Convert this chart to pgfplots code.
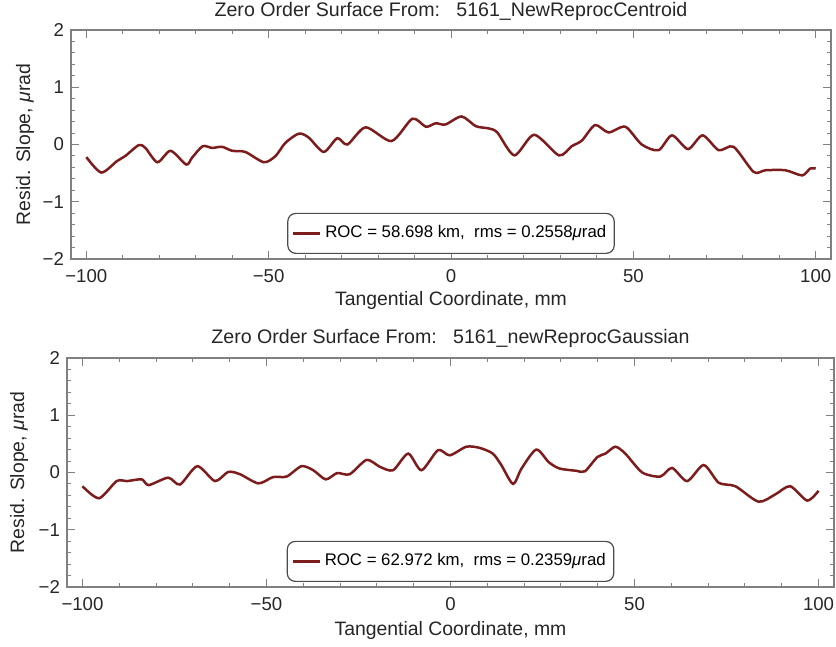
\documentclass[border=0pt]{standalone}
\usepackage{fontspec}
\setmainfont{Liberation Sans}
\usepackage{pgfplots}
\pgfplotsset{compat=1.18}
\definecolor{curve}{RGB}{125,28,28}
\definecolor{framec}{RGB}{128,128,128}

\pgfplotsset{
  myax/.style={
    scale only axis, height=114.5pt,
    xmin=-104.2, xmax=104.2, ymin=-2, ymax=2,
    xtick={-100,-50,0,50,100}, xticklabels={−100,−50,0,50,100},
    ytick={-2,-1,0,1,2}, yticklabels={−2,−1,0,1,2},
    minor x tick num=4, minor y tick num=4,
    tick align=inside, tick pos=both,
    major tick length=4pt, minor tick length=2pt,
    axis line style={framec, line width=0.6pt},
    every tick/.style={framec, line width=0.5pt},
    tick label style={font=\fontsize{9.3}{11}\selectfont, text=black!85},
    xticklabel style={yshift=-1.5pt},
    label style={font=\fontsize{9.7}{11}\selectfont, text=black!85},
    every axis title shift=0pt,
    title style={font=\fontsize{9.8}{11}\selectfont, text=black!85},
    xlabel={Tangential Coordinate, mm},
    ylabel={Resid. Slope, {\itshape μ}rad},
    ylabel style={at={(axis description cs:-0.0605,0.5)}, anchor=center},
    legend style={at={(axis description cs:0.5,0.022)}, anchor=south,
      draw=black!70, rounded corners=4pt, line width=0.6pt,
      font=\fontsize{8.4}{10}\selectfont, inner xsep=2pt, inner ysep=4.2pt},
    legend image code/.code={\draw[#1] (0pt,0pt) -- (13.5pt,0pt);},
  },
  curvestyle/.style={curve, line width=1.25pt, smooth, tension=0.45, mark=none},
}

\pgfplotstableread{
x y
-100 -0.22
-95.9 -0.49
-91.6 -0.29
-89.3 -0.20
-85.6 -0.01
-83.8 -0.06
-80.5 -0.31
-76.9 -0.11
-72.6 -0.35
-71.0 -0.23
-68.1 -0.03
-65.5 -0.06
-62.8 -0.04
-60.0 -0.11
-56.4 -0.13
-51.3 -0.31
-48.1 -0.20
-45.4 0.03
-41.7 0.19
-39.0 0.12
-34.9 -0.13
-31.2 0.11
-28.4 0.00
-23.4 0.30
-16.3 0.06
-10.6 0.45
-6.9 0.31
-4.2 0.37
-1.5 0.35
2.9 0.49
6.8 0.32
10.4 0.28
12.7 0.21
17.4 -0.19
22.8 0.17
29.6 -0.19
33.1 -0.03
35.9 0.07
39.5 0.34
43.2 0.21
47.8 0.31
52.3 0.00
56.9 -0.10
60.6 0.16
65.0 -0.08
69.0 0.16
73.4 -0.10
77.5 -0.04
83.0 -0.48
86.2 -0.45
91.7 -0.45
96.3 -0.54
98.5 -0.42
100 -0.42
}\centroid

\pgfplotstableread{
x y
-100 -0.24
-95.5 -0.45
-90.7 -0.15
-87.9 -0.15
-83.9 -0.12
-82.0 -0.22
-76.7 -0.09
-73.5 -0.21
-68.8 0.11
-64.0 -0.15
-60.4 0.01
-57.2 -0.03
-52.2 -0.19
-48.2 -0.08
-44.5 -0.07
-40.5 0.11
-37.3 0.04
-33.9 -0.12
-30.8 -0.01
-27.4 -0.03
-22.8 0.22
-19.2 0.10
-15.6 0.04
-11.5 0.33
-7.9 0.04
-3.4 0.39
-0.2 0.30
4.3 0.45
7.9 0.43
11.5 0.33
13.8 0.13
17.0 -0.20
19.3 0.07
23.3 0.40
26.7 0.18
29.6 0.07
34.2 0.03
36.5 0.02
39.9 0.27
42.1 0.33
44.8 0.45
47.5 0.33
52.1 0.00
57.0 -0.07
60.2 0.08
64.3 -0.15
68.8 0.13
72.9 -0.18
77.4 -0.24
83.7 -0.51
88.3 -0.38
92.3 -0.24
96.9 -0.49
100 -0.32
}\gaussian

\begin{document}
\begin{tikzpicture}
\useasboundingbox (0,0) rectangle (418pt,323.5pt);
\begin{axis}[myax, width=380pt,
  at={(35.5pt,194pt)}, anchor=south west,
  title={Zero Order Surface From:\ \ \ 5161\_NewReprocCentroid},
  title style={at={(axis description cs:0.5,1.079)}, anchor=center},
  xlabel style={at={(axis description cs:0.5,-0.181)}, anchor=center},
]
\addplot[curvestyle] table[x=x,y=y] {\centroid};
\addlegendentry{ROC = 58.698 km,\ \ rms = 0.2558{\itshape μ}rad}
\end{axis}
\begin{axis}[myax, width=383.5pt,
  at={(33.5pt,30pt)}, anchor=south west,
  title={Zero Order Surface From:\ \ \ 5161\_newReprocGaussian},
  title style={at={(axis description cs:0.5,1.085)}, anchor=center},
  xlabel style={at={(axis description cs:0.5,-0.192)}, anchor=center},
  ylabel style={at={(axis description cs:-0.0625,0.5)}},
]
\addplot[curvestyle] table[x=x,y=y] {\gaussian};
\addlegendentry{ROC = 62.972 km,\ \ rms = 0.2359{\itshape μ}rad}
\end{axis}
\end{tikzpicture}
\end{document}
